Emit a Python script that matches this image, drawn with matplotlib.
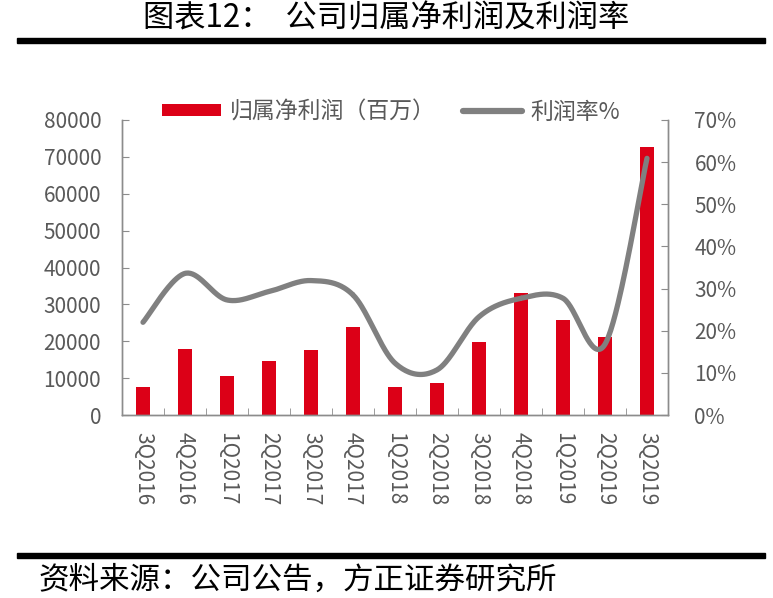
import numpy as np
import matplotlib
matplotlib.use('Agg')
import matplotlib.pyplot as plt
from matplotlib.patches import Patch, Rectangle
from matplotlib.lines import Line2D

plt.rcParams['font.family'] = ['Noto Sans CJK SC', 'DejaVu Sans']

# data
quarters = ['3Q2016', '4Q2016', '1Q2017', '2Q2017', '3Q2017', '4Q2017', '1Q2018',
            '2Q2018', '3Q2018', '4Q2018', '1Q2019', '2Q2019', '3Q2019']
net_profit = [7500, 17900, 10700, 14600, 17500, 23900, 7500,
              8700, 19800, 33000, 25800, 21100, 72600]
margin = [22.0, 33.6, 27.3, 29.3, 31.9, 28.5, 12.3,
          10.7, 23.3, 27.7, 27.7, 16.8, 60.9]
left_ticks = [0, 10000, 20000, 30000, 40000, 50000, 60000, 70000, 80000]
right_ticks = [0, 10, 20, 30, 40, 50, 60, 70]

RED = '#DC0017'
GRAY = '#808080'
SPINE = '#8c8c8c'
TXT = '#595959'


def catmull_rom(xs, ys, n=40):
    # smooth curve through the points, like excel's smoothed line
    xs = np.asarray(xs, float)
    ys = np.asarray(ys, float)
    px = np.concatenate([[xs[0]], xs, [xs[-1]]])
    py = np.concatenate([[ys[0]], ys, [ys[-1]]])
    outx, outy = [], []
    t = np.linspace(0, 1, n)
    for i in range(1, len(px) - 2):
        p0, p1, p2, p3 = py[i - 1], py[i], py[i + 1], py[i + 2]
        q0, q1, q2, q3 = px[i - 1], px[i], px[i + 1], px[i + 2]
        yy = 0.5 * ((2 * p1) + (-p0 + p2) * t + (2 * p0 - 5 * p1 + 4 * p2 - p3) * t ** 2
                    + (-p0 + 3 * p1 - 3 * p2 + p3) * t ** 3)
        xx = 0.5 * ((2 * q1) + (-q0 + q2) * t + (2 * q0 - 5 * q1 + 4 * q2 - q3) * t ** 2
                    + (-q0 + 3 * q1 - 3 * q2 + q3) * t ** 3)
        outx.extend(xx)
        outy.extend(yy)
    return np.array(outx), np.array(outy)


W, H = 773, 598
fig = plt.figure(figsize=(W / 100, H / 100), dpi=100)
ax = fig.add_axes([122 / W, (H - 415) / H, (668 - 122) / W, (415 - 120) / H])

x = np.arange(len(quarters))
ax.bar(x, net_profit, width=0.31, color=RED, zorder=2)
ax.set_ylim(0, 80000)
ax.set_xlim(-0.5, len(quarters) - 0.5)
ax.set_yticks(left_ticks)
ax.set_yticklabels([str(v) for v in left_ticks])
ax.set_xticks(x)
ax.set_xticklabels(quarters, rotation=-90, va='top', ha='center')
ax.set_xticks(np.arange(-0.5, len(quarters), 1.0), minor=True)
ax.tick_params(axis='x', which='major', length=0, pad=12, labelsize=15, labelcolor=TXT)
ax.tick_params(axis='x', which='minor', direction='in', length=5, color=SPINE)
ax.tick_params(axis='y', direction='in', length=5, color=SPINE, pad=15,
               labelsize=15, labelcolor=TXT)

ax2 = ax.twinx()
sx, sy = catmull_rom(x, margin)
ax2.plot(sx, sy, color=GRAY, lw=3.8, solid_capstyle='round', zorder=3)
ax2.set_ylim(0, 70)
ax2.set_yticks(right_ticks)
ax2.set_yticklabels([f'{v}%' for v in right_ticks])
ax2.tick_params(axis='y', direction='in', length=5, color=SPINE, pad=19,
                labelsize=15, labelcolor=TXT)

for a in (ax, ax2):
    a.spines['top'].set_visible(False)
    for s in ('left', 'right', 'bottom'):
        a.spines[s].set_color(SPINE)
        a.spines[s].set_linewidth(1.0)

handles = [Patch(facecolor=RED, edgecolor='none'),
           Line2D([], [], color=GRAY, lw=4.5, solid_capstyle='round')]
fig.legend(handles, ['归属净利润（百万）', '利润率%'], loc='center',
           bbox_to_anchor=(391 / W, (H - 112) / H), ncol=2, frameon=False,
           fontsize=16.5, labelcolor=TXT, handlelength=2.6, handleheight=0.45,
           handletextpad=0.35, columnspacing=1.2)

# title, rules and source note
fig.text(386 / W, (H - 18) / H, '图表12：  公司归属净利润及利润率', ha='center', va='center',
         fontsize=22.5, color='black')
fig.add_artist(Rectangle((17 / W, (H - 43) / H), (765 - 17) / W, 5 / H,
                         transform=fig.transFigure, color='black'))
fig.add_artist(Rectangle((17 / W, (H - 558) / H), (765 - 17) / W, 5 / H,
                         transform=fig.transFigure, color='black'))
fig.text(38 / W, (H - 580) / H, '资料来源：公司公告，方正证券研究所', ha='left', va='center',
         fontsize=22, color='black')

fig.savefig('out.png', dpi=100)
